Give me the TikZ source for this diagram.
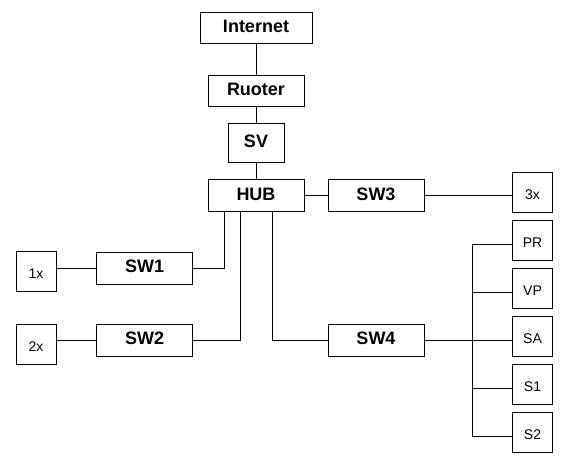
\documentclass[tikz,border=0pt]{standalone}
\usepackage{fontspec}
\setmainfont{Liberation Sans}
\usetikzlibrary{positioning}

\begin{document}
\begin{tikzpicture}[x=1pt,y=-1pt,line width=1pt,
  bigbox/.style={draw,rectangle,inner sep=0pt,minimum width=96pt,minimum height=32pt,text depth=4pt,font=\fontsize{18}{18}\selectfont\bfseries},
  smallbox/.style={draw,rectangle,inner sep=0pt,minimum width=40pt,minimum height=40pt,text height=14pt,font=\fontsize{14}{14}\selectfont}]
\useasboundingbox (0,0) rectangle (571,457);

\node[bigbox,minimum width=112pt,minimum height=31pt] (inet) at (256,28) {Internet};
\node[bigbox,minimum height=31pt] (rt) at (256,91.5) {Ruoter};
\node[bigbox,minimum width=56pt,minimum height=39pt] (sv) at (256,143.5) {SV};
\node[bigbox] (hub) at (256,196) {HUB};
\node[bigbox] (sw3) at (376,196) {SW3};
\node[bigbox] (sw1) at (144.7,268.3) {SW1};
\node[bigbox] (sw2) at (144.7,340.3) {SW2};
\node[bigbox] (sw4) at (376,340.3) {SW4};

\node[smallbox] (x1) at (36,272) {1x};
\node[smallbox] (x2) at (36,344.3) {2x};
\node[smallbox] (x3) at (532.5,192.5) {3x};
\node[smallbox] (pr) at (532.5,240.5) {PR};
\node[smallbox] (vp) at (532.5,288.5) {VP};
\node[smallbox] (sa) at (532.5,336.5) {SA};
\node[smallbox] (s1) at (532.5,384.5) {S1};
\node[smallbox] (s2) at (532.5,432.5) {S2};

% backbone
\draw (inet) -- (rt);
\draw (rt) -- (sv);
\draw (sv) -- (hub);
\draw (hub) -- (sw3);
\draw (sw3.east) -- (sw3.east -| x3.west);

% hub to the switches below
\draw ([xshift=-32pt]hub.south) |- (sw1.east);
\draw ([xshift=-16pt]hub.south) |- (sw2.east);
\draw ([xshift=16pt]hub.south) |- (sw4.west);
\draw (sw1.west) -- (sw1.west -| x1.east);
\draw (sw2.west) -- (sw2.west -| x2.east);

% sw4 bus
\draw (sw4.east) -- (sw4.east -| sa.west);
\foreach \n in {pr,vp,s1,s2}
  \draw ([yshift=-3.8pt]\n.west) -- ++(-39.8,0);
\draw ([xshift=-39.8pt,yshift=-3.8pt]pr.west) -- ([xshift=-39.8pt,yshift=-3.8pt]s2.west);

\end{tikzpicture}
\end{document}
